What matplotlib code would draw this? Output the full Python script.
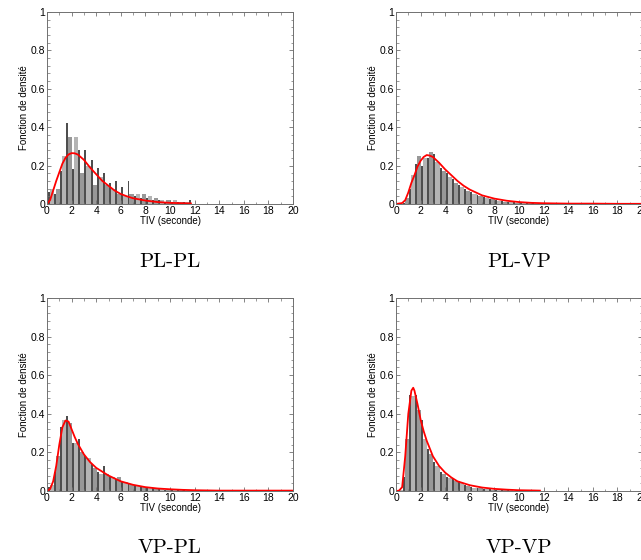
import matplotlib
matplotlib.use("Agg")
from matplotlib import pyplot as plt
from matplotlib.ticker import MultipleLocator
import numpy as np

plt.rcParams['font.family'] = ['Liberation Sans', 'DejaVu Sans']

# histogram bins (width 0.25 s, starting at 0)
bin_width = 0.25

plpl_hist = [0.06, 0.08, 0.05, 0.08, 0.17, 0.25, 0.42, 0.35, 0.18, 0.35, 0.28, 0.16,
             0.28, 0.20, 0.23, 0.10, 0.19, 0.14, 0.16, 0.10, 0.11, 0.08, 0.12, 0.05,
             0.09, 0.04, 0.12, 0.05, 0.04, 0.05, 0.03, 0.05, 0.03, 0.04, 0.02, 0.03,
             0.02, 0.02, 0.01, 0.02, 0.01, 0.02, 0.01, 0.01, 0.01, 0.01, 0.02]
plvp_hist = [0.0, 0.0, 0.005, 0.03, 0.08, 0.15, 0.21, 0.25, 0.20, 0.24, 0.24, 0.27,
             0.26, 0.22, 0.19, 0.17, 0.16, 0.14, 0.13, 0.11, 0.10, 0.09, 0.08, 0.07,
             0.065, 0.05, 0.045, 0.04, 0.035, 0.03, 0.028, 0.025, 0.02, 0.018, 0.015, 0.012,
             0.012, 0.01, 0.008, 0.007, 0.006, 0.005, 0.004, 0.004, 0.003, 0.003, 0.003, 0.002,
             0.002, 0.002, 0.002, 0.001, 0.001, 0.001]
vppl_hist = [0.02, 0.03, 0.10, 0.18, 0.33, 0.37, 0.39, 0.35, 0.25, 0.25, 0.27, 0.20,
             0.18, 0.17, 0.14, 0.12, 0.10, 0.09, 0.13, 0.09, 0.08, 0.07, 0.06, 0.07,
             0.05, 0.045, 0.04, 0.035, 0.03, 0.025, 0.02, 0.02, 0.018, 0.015, 0.014, 0.012,
             0.01, 0.008, 0.007, 0.006, 0.005, 0.004, 0.004, 0.003, 0.003, 0.003, 0.002, 0.002,
             0.002, 0.002, 0.002, 0.002, 0.002, 0.002, 0.002, 0.002]
vpvp_hist = [0.005, 0.005, 0.07, 0.27, 0.50, 0.49, 0.50, 0.42, 0.37, 0.27, 0.22, 0.19,
             0.15, 0.13, 0.10, 0.09, 0.07, 0.065, 0.06, 0.05, 0.05, 0.04, 0.03, 0.025,
             0.02, 0.018, 0.015, 0.013, 0.01, 0.009, 0.008, 0.007, 0.006, 0.005, 0.004, 0.004,
             0.003, 0.003, 0.002, 0.002]

# fitted density curves (x, y)
plpl_fit_x = [0, 0.25, 0.5, 0.75, 1, 1.25, 1.5, 1.75, 2, 2.25, 2.5, 3, 3.5, 4, 4.5, 5, 5.5,
              6, 6.5, 7, 8, 9, 10, 11, 11.7]
plpl_fit_y = [0, 0.02, 0.07, 0.12, 0.165, 0.21, 0.24, 0.258, 0.265, 0.264, 0.258, 0.23, 0.19,
              0.155, 0.12, 0.095, 0.07, 0.052, 0.04, 0.03, 0.018, 0.01, 0.006, 0.004, 0.003]
plvp_fit_x = [0, 0.5, 0.75, 1, 1.25, 1.5, 1.75, 2, 2.25, 2.5, 2.75, 3, 3.5, 4, 4.5, 5, 5.5,
              6, 7, 8, 9, 10, 11, 12, 13, 14, 16, 18, 20]
plvp_fit_y = [0, 0.005, 0.02, 0.06, 0.11, 0.15, 0.195, 0.225, 0.245, 0.255, 0.252, 0.245,
              0.215, 0.18, 0.15, 0.12, 0.095, 0.075, 0.045, 0.028, 0.017, 0.01, 0.006, 0.004,
              0.003, 0.002, 0.002, 0.001, 0.001]
vppl_fit_x = [0, 0.25, 0.5, 0.75, 1, 1.25, 1.5, 1.75, 2, 2.25, 2.5, 3, 3.5, 4, 4.5, 5, 5.5,
              6, 7, 8, 9, 10, 11, 12, 14, 16, 18, 20]
vppl_fit_y = [0, 0.01, 0.05, 0.13, 0.24, 0.33, 0.365, 0.36, 0.32, 0.28, 0.245, 0.19, 0.15,
              0.12, 0.10, 0.08, 0.065, 0.05, 0.032, 0.02, 0.013, 0.009, 0.006, 0.004, 0.002,
              0.002, 0.002, 0.002]
vpvp_fit_x = [0, 0.25, 0.5, 0.75, 1, 1.25, 1.4, 1.5, 1.75, 2, 2.25, 2.5, 3, 3.5, 4, 4.5, 5,
              5.5, 6, 7, 8, 9, 10, 11, 11.7]
vpvp_fit_y = [0, 0.002, 0.02, 0.18, 0.40, 0.52, 0.535, 0.52, 0.45, 0.37, 0.31, 0.26, 0.18,
              0.13, 0.095, 0.07, 0.05, 0.04, 0.03, 0.018, 0.011, 0.007, 0.004, 0.003, 0.002]

titles = ['PL-PL', 'PL-VP', 'VP-PL', 'VP-VP']
hists = [plpl_hist, plvp_hist, vppl_hist, vpvp_hist]
fits = [(plpl_fit_x, plpl_fit_y), (plvp_fit_x, plvp_fit_y),
        (vppl_fit_x, vppl_fit_y), (vpvp_fit_x, vpvp_fit_y)]

W, H = 641, 560
fig = plt.figure(figsize=(W / 100, H / 100), dpi=100)

# axes boxes in pixels: left, top, right, bottom
boxes = [(47, 12, 293, 204), (396, 12, 642, 204),
         (47, 298, 293, 491), (396, 298, 642, 491)]
title_y = [262, 262, 548, 548]

for i in range(4):
    l, t, r, b = boxes[i]
    ax = fig.add_axes([l / W, 1 - b / H, (r - l) / W, (b - t) / H])
    vals = np.array(hists[i])
    centers = np.arange(len(vals)) * bin_width + bin_width / 2
    idx = np.arange(len(vals))
    odd = idx % 2 == 1
    light = odd & (idx % 4 == 1)
    mid = odd & (idx % 4 == 3)
    even = ~odd
    ax.bar(centers[light], vals[light], width=0.34, color='#b4b4b4', linewidth=0)
    ax.bar(centers[mid], vals[mid], width=0.34, color='#989898', linewidth=0)
    ax.bar(centers[even], vals[even], width=0.16, color='#4e4e4e', linewidth=0)
    fx, fy = fits[i]
    ax.plot(fx, fy, color='red', lw=1.3)

    ax.set_xlim(0, 20)
    ax.set_ylim(0, 1)
    ax.set_xticks(np.arange(0, 21, 2))
    ax.set_yticks([0, 0.2, 0.4, 0.6, 0.8, 1])
    ax.set_yticklabels(['0', '0.2', '0.4', '0.6', '0.8', '1'])
    ax.xaxis.set_minor_locator(MultipleLocator(1))
    ax.yaxis.set_minor_locator(MultipleLocator(0.04))
    ax.tick_params(which='both', direction='in', top=True, right=True,
                   color='#707070', labelsize=7.5, pad=1.5)
    ax.tick_params(which='major', length=3, width=0.6)
    ax.tick_params(which='minor', length=1.8, width=0.5)
    for s in ax.spines.values():
        s.set_color('#707070')
        s.set_linewidth(0.7)
    ax.set_xlabel('TIV (seconde)', fontsize=7, labelpad=0)
    ax.set_ylabel('Fonction de densité', fontsize=7, labelpad=1)

    fig.text((l + r) / 2 / W, 1 - title_y[i] / H, titles[i], ha='center', va='center',
             fontsize=15, family=['cmr10', 'DejaVu Serif'])

fig.savefig('out.png', dpi=100)
